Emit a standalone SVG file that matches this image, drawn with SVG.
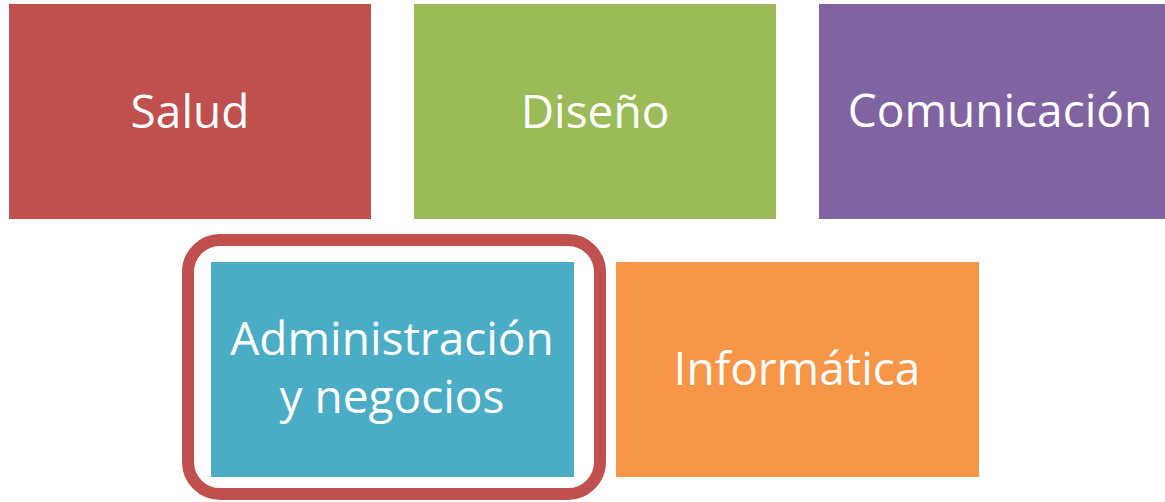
<svg xmlns="http://www.w3.org/2000/svg" width="1165" height="502" viewBox="0 0 1165 502">
<style>
.lbl{font-family:"Open Sans","Noto Sans","Liberation Sans",sans-serif;font-size:46px;fill:#FFFFFF;text-anchor:middle}
</style>
<rect x="0" y="0" width="1165" height="502" fill="#FFFFFF"/>
<g id="salud"><rect x="9" y="4" width="362" height="215" fill="#C0504D"/><text class="lbl" x="190" y="128">Salud</text></g>
<g id="diseno"><rect x="414" y="4" width="362" height="215" fill="#9BBB59"/><text class="lbl" x="595" y="128">Diseño</text></g>
<g id="comunicacion"><rect x="819" y="4" width="346" height="215" fill="#8064A2"/><text class="lbl" x="1000" y="127">Comunicación</text></g>
<g id="administracion">
<rect x="188" y="240" width="412" height="254" rx="32" ry="32" fill="none" stroke="#C0504D" stroke-width="12"/>
<rect x="211" y="262" width="363" height="215" fill="#4BACC6"/>
<text class="lbl" x="392" y="355">Administración</text>
<text class="lbl" x="392" y="413">y negocios</text>
</g>
<g id="informatica"><rect x="616" y="262" width="363" height="215" fill="#F79646"/><text class="lbl" x="797" y="385">Informática</text></g>
<g id="connectors"></g>
</svg>
